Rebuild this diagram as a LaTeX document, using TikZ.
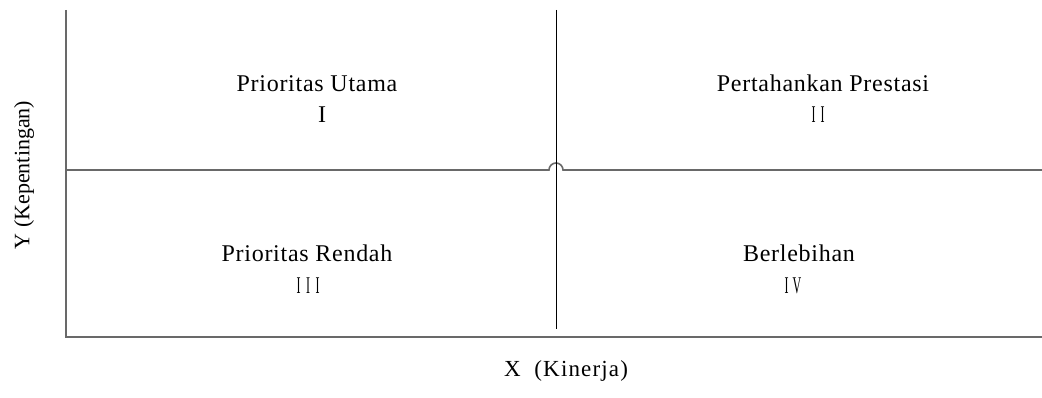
\documentclass[tikz,border=0pt]{standalone}
\usepackage{fontspec}
\setmainfont{Liberation Serif}
\definecolor{axisgray}{RGB}{105,105,105}
\newcommand{\nrI}{\scalebox{0.5}[1]{I}}
\newcommand{\nrV}{\scalebox{0.5}[1]{V}}
\begin{document}
\begin{tikzpicture}[x=1pt,y=1pt,
  axis/.style={draw=axisgray,line width=1.6pt},
  divider/.style={draw=black,line width=1pt},
  lbl/.style={font=\fontsize{24}{27}\selectfont\addfontfeatures{LetterSpace=3},anchor=base,inner sep=0pt},
  num/.style={font=\fontsize{24}{27}\selectfont,anchor=base,inner sep=0pt}]
\useasboundingbox (0,0) rectangle (1042,397);
\coordinate (ytop) at (66,387);
\coordinate (origin) at (66,60);
\coordinate (xend) at (1042,60);
\coordinate (mleft) at (66,227);
\coordinate (hl) at (549,227);
\coordinate (mright) at (1042,227);
\coordinate (vtop) at (556,387);
\coordinate (vbot) at (556,68);
\draw[axis] (ytop) -- (origin) -- (xend);
\draw[axis] (mleft) -- (hl) arc[start angle=180,end angle=0,radius=7] -- (mright);
\draw[divider] (vtop) -- (vbot);
% quadrant labels
\node[lbl] (q1) at (317,305) {Prioritas Utama};
\node[num] (q1n) at (322,274) {I};
\node[lbl] (q2) at (823,305) {Pertahankan Prestasi};
\node[num] (q2n) at (818,274) {\nrI\hspace{5pt}\nrI};
\node[lbl] (q3) at (307,136) {Prioritas Rendah};
\node[num] (q3n) at (308,104) {\nrI\hspace{5.5pt}\nrI\hspace{5.5pt}\nrI};
\node[lbl] (q4) at (799,136) {Berlebihan};
\node[num] (q4n) at (793,104) {\nrI\hspace{4pt}\nrV};
% axis labels
\node[font=\fontsize{23}{26}\selectfont\addfontfeatures{LetterSpace=5},anchor=base,inner sep=0pt] (xl) at (566,21) {X\ \ (Kinerja)};
\node[font=\fontsize{22}{25}\selectfont,rotate=90,inner sep=0pt] (yl) at (24,222) {Y (Kepentingan)};
\end{tikzpicture}
\end{document}
